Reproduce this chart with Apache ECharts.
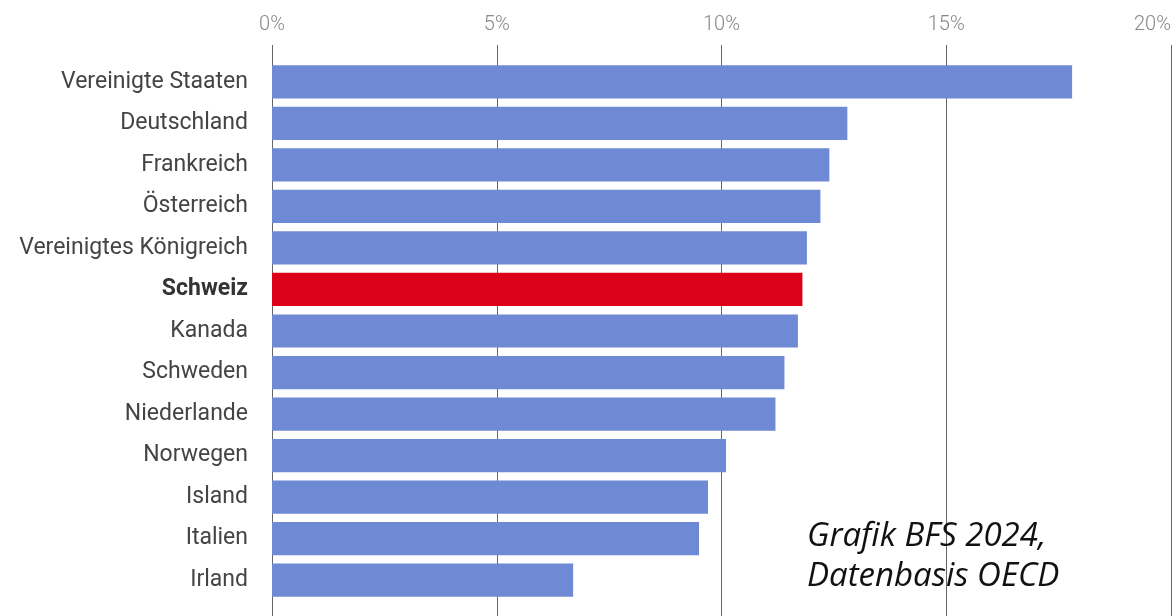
<!DOCTYPE html>
<html><head><meta charset="utf-8">
<script src="https://cdn.jsdelivr.net/npm/echarts@6/dist/echarts.min.js"></script>
<style>html,body{margin:0;padding:0;background:#fff}#c{width:1173px;height:616px}</style>
</head><body><div id="c"></div>
<script>
const categories = ["Vereinigte Staaten","Deutschland","Frankreich","Österreich","Vereinigtes Königreich","Schweiz","Kanada","Schweden","Niederlande","Norwegen","Island","Italien","Irland"];
const values = [17.8,12.8,12.4,12.2,11.9,11.8,11.7,11.4,11.2,10.1,9.7,9.5,6.7];
const highlight = "Schweiz";
const tickValues = [0,5,10,15,20];
const noteLines = ["Grafik BFS 2024,","Datenbasis OECD"];

const chart = echarts.init(document.getElementById('c'));
const blue = '#6e8ad5', red = '#dc0018';
chart.setOption({
  animation:false,
  grid:[
    {left:272, right:2, top:61, height:540, containLabel:false, outerBoundsMode:'none'},
    {left:272, right:2, top:601, bottom:0, containLabel:false, outerBoundsMode:'none'}
  ],
  xAxis:[
    {gridIndex:0, type:'value', position:'top', min:tickValues[0], max:tickValues[tickValues.length-1], interval:5,
     axisLine:{show:false},
     axisTick:{show:true, inside:false, length:16, lineStyle:{color:'#666', width:1}},
     axisLabel:{formatter:v=>v+'%', color:'#888', fontFamily:'Roboto', fontWeight:300, fontSize:20, margin:26,
       alignMaxLabel:'right'},
     splitLine:{show:true, lineStyle:{color:'#666', width:1}}},
    {gridIndex:1, type:'value', min:0, max:20, interval:5,
     axisLine:{show:false}, axisTick:{show:false}, axisLabel:{show:false},
     splitLine:{show:true, lineStyle:{color:'#666', width:1}}}
  ],
  yAxis:[
    {gridIndex:0, type:'category', inverse:true, data:categories,
     axisLine:{show:false}, axisTick:{show:false},
     axisLabel:{margin:24, fontFamily:'Roboto', fontSize:23, color:'#444',
       formatter:v=> v===highlight ? '{b|'+v+'}' : v,
       rich:{b:{fontWeight:'bold', fontFamily:'Roboto', fontSize:23, color:'#333'}}}},
    {gridIndex:1, type:'category', data:[''], show:false}
  ],
  series:[{
    type:'bar', xAxisIndex:0, yAxisIndex:0, barWidth:'80%',
    data: values.map((v,i)=>({value:v, itemStyle:{color: categories[i]===highlight ? red : blue}})),
    z:3
  }],
  graphic:[
    {type:'text', left:807, top:517, z:10, style:{text:noteLines.join('\n'), font:'italic 33px "Open Sans"', fill:'#111', lineHeight:40}}
  ]
});
</script></body></html>
